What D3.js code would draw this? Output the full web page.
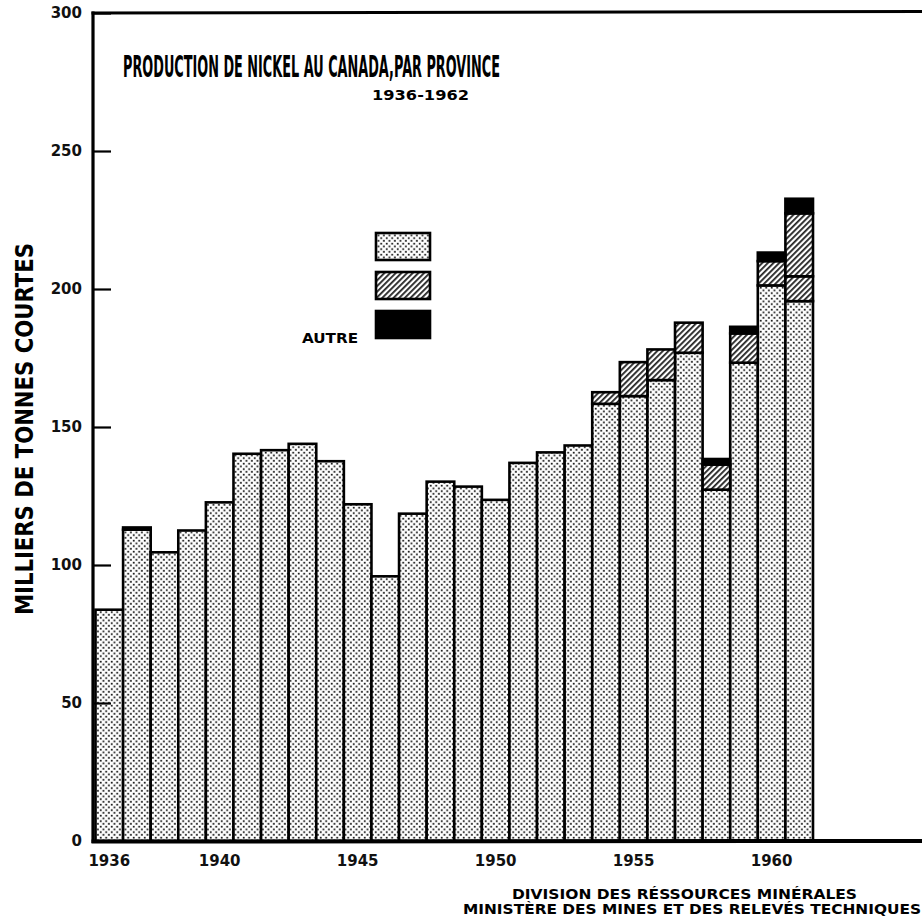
<!DOCTYPE html>
<html>
<head>
<meta charset="utf-8">
<script src="https://cdn.jsdelivr.net/npm/d3@7"></script>
<style>
  body { margin: 0; background: #fff; }
  svg { display: block; }
</style>
</head>
<body>
<div id="chart"></div>
<script>
// data (milliers de tonnes courtes)
var years = [1936, 1937, 1938, 1939, 1940, 1941, 1942, 1943, 1944, 1945, 1946, 1947, 1948,
             1949, 1950, 1951, 1952, 1953, 1954, 1955, 1956, 1957, 1958, 1959, 1960, 1961];
var ontario = [83.8, 112.8, 104.6, 112.5, 122.7, 140.3, 141.6, 143.9, 137.6, 122.0, 95.9, 118.6, 130.2,
               128.4, 123.6, 137.0, 140.8, 143.3, 158.4, 161.2, 167.0, 176.9, 127.3, 173.3, 201.3, 195.6];
var manitoba = [0, 0, 0, 0, 0, 0, 0, 0, 0, 0, 0, 0, 0,
                0, 0, 0, 0, 0, 4.2, 12.3, 11.1, 10.9, 9.1, 10.6, 8.8, 9.0];
var manitobaB = [0, 0, 0, 0, 0, 0, 0, 0, 0, 0, 0, 0, 0,
                 0, 0, 0, 0, 0, 0, 0, 0, 0, 0, 0, 0, 22.8];
var autre = [0, 0.8, 0, 0, 0, 0, 0, 0, 0, 0, 0, 0, 0,
             0, 0, 0, 0, 0, 0, 0, 0, 0, 2.0, 2.4, 3.1, 5.3];
var yTicks = [0, 50, 100, 150, 200, 250, 300];
var xTicks = [1936, 1940, 1945, 1950, 1955, 1960];

var width = 922, height = 919;
var fnt = "'DejaVu Sans', sans-serif";

var svg = d3.select("#chart")
    .append("svg")
    .attr("width", width)
    .attr("height", height);

// patterns
var defs = svg.append("defs");
var dots = defs.append("pattern")
    .attr("id", "dots")
    .attr("patternUnits", "userSpaceOnUse")
    .attr("width", 5.5).attr("height", 5.5);
dots.append("rect").attr("width", 5.5).attr("height", 5.5).attr("fill", "#fff");
dots.append("rect").attr("x", 0.8).attr("y", 0.8).attr("width", 1.8).attr("height", 1.7).attr("fill", "#111");
dots.append("rect").attr("x", 3.5).attr("y", 3.5).attr("width", 1.8).attr("height", 1.7).attr("fill", "#111");

var hatch = defs.append("pattern")
    .attr("id", "hatch")
    .attr("patternUnits", "userSpaceOnUse")
    .attr("width", 4).attr("height", 4)
    .attr("patternTransform", "rotate(45)");
hatch.append("rect").attr("width", 4).attr("height", 4).attr("fill", "#fff");
hatch.append("rect").attr("x", 0).attr("y", 0).attr("width", 1.8).attr("height", 4).attr("fill", "#222");

var fills = { ontario: "url(#dots)", manitoba: "url(#hatch)", manitobaB: "url(#hatch)", autre: "#000" };

// table for the stack
var table = years.map(function (yr, i) {
    return { year: yr, ontario: ontario[i], manitoba: manitoba[i], manitobaB: manitobaB[i], autre: autre[i] };
});
var keys = ["ontario", "manitoba", "manitobaB", "autre"];
var stackedData = d3.stack().keys(keys)(table);

// scales
var x = d3.scaleBand()
    .domain(years)
    .range([95.5, 813])
    .padding(0);

var y = d3.scaleLinear()
    .domain([0, 300])
    .range([841, 13]);

// bars
svg.append("g")
    .selectAll("g")
    .data(stackedData)
    .enter()
    .append("g")
    .attr("fill", function (d) { return fills[d.key]; })
    .selectAll("rect")
    .data(function (d) { return d.filter(function (s) { return s[1] - s[0] > 0; }); })
    .enter()
    .append("rect")
    .attr("x", function (d) { return x(d.data.year); })
    .attr("width", x.bandwidth())
    .attr("y", function (d) { return y(d[1]); })
    .attr("height", function (d) { return y(d[0]) - y(d[1]); })
    .attr("stroke", "#000")
    .attr("stroke-width", 2.6);

// Y axis
var yAxis = svg.append("g")
    .attr("transform", "translate(93,0)")
    .call(d3.axisLeft(y).tickValues(yTicks).tickSize(-18).tickPadding(11));
yAxis.select(".domain").remove();
yAxis.selectAll(".tick line").attr("stroke", "#000").attr("stroke-width", 2.2);
yAxis.selectAll(".tick text")
    .attr("font-family", fnt)
    .attr("font-weight", "bold")
    .attr("font-size", 15)
    .attr("fill", "#111");

// X axis labels
var xAxis = svg.append("g")
    .attr("transform", "translate(0,841)")
    .call(d3.axisBottom(x).tickValues(xTicks).tickSize(0).tickPadding(14));
xAxis.select(".domain").remove();
xAxis.selectAll(".tick text")
    .attr("font-family", fnt)
    .attr("font-weight", "bold")
    .attr("font-size", 15)
    .attr("fill", "#111");

// frame lines
svg.append("line").attr("x1", 93).attr("x2", 93).attr("y1", 11.5).attr("y2", 843)
    .attr("stroke", "#000").attr("stroke-width", 3.2);
svg.append("line").attr("x1", 91.5).attr("x2", 922).attr("y1", 13).attr("y2", 11.5)
    .attr("stroke", "#000").attr("stroke-width", 3);
svg.append("line").attr("x1", 91.5).attr("x2", 922).attr("y1", 841.5).attr("y2", 841)
    .attr("stroke", "#000").attr("stroke-width", 4);

// title (narrow, tall lettering)
svg.append("text")
    .attr("transform", "translate(123,77) scale(1,1.75)")
    .attr("font-family", fnt).attr("font-weight", "bold").attr("font-size", 17)
    .attr("textLength", 377).attr("lengthAdjust", "spacingAndGlyphs")
    .text("PRODUCTION DE NICKEL AU CANADA,PAR PROVINCE");
svg.append("text")
    .attr("x", 372).attr("y", 100)
    .attr("font-family", fnt).attr("font-weight", "bold").attr("font-size", 14)
    .attr("textLength", 97).attr("lengthAdjust", "spacingAndGlyphs")
    .text("1936-1962");

// y title
svg.append("text")
    .attr("transform", "translate(33,429) rotate(-90)")
    .attr("text-anchor", "middle")
    .attr("font-family", fnt).attr("font-weight", "bold").attr("font-size", 25)
    .attr("textLength", 372).attr("lengthAdjust", "spacingAndGlyphs")
    .text("MILLIERS DE TONNES COURTES");

// legend
var legendY = [233, 272, 311];
var legendKeys = ["ontario", "manitoba", "autre"];
svg.append("g")
    .selectAll("rect")
    .data(legendKeys)
    .enter()
    .append("rect")
    .attr("x", 376)
    .attr("y", function (d, i) { return legendY[i]; })
    .attr("width", 54)
    .attr("height", 27)
    .attr("fill", function (d) { return fills[d]; })
    .attr("stroke", "#000")
    .attr("stroke-width", 2.6);
svg.append("text")
    .attr("x", 302).attr("y", 343)
    .attr("font-family", fnt).attr("font-weight", "bold").attr("font-size", 14)
    .attr("textLength", 56).attr("lengthAdjust", "spacingAndGlyphs")
    .text("AUTRE");

// footer
svg.append("text")
    .attr("x", 512).attr("y", 899)
    .attr("font-family", fnt).attr("font-weight", "bold").attr("font-size", 14)
    .attr("textLength", 345).attr("lengthAdjust", "spacingAndGlyphs")
    .text("DIVISION DES RÉSSOURCES MINÉRALES");
svg.append("text")
    .attr("x", 463).attr("y", 914)
    .attr("font-family", fnt).attr("font-weight", "bold").attr("font-size", 14)
    .attr("textLength", 458).attr("lengthAdjust", "spacingAndGlyphs")
    .text("MINISTÈRE DES MINES ET DES RELEVÉS TECHNIQUES");
</script>
</body>
</html>
